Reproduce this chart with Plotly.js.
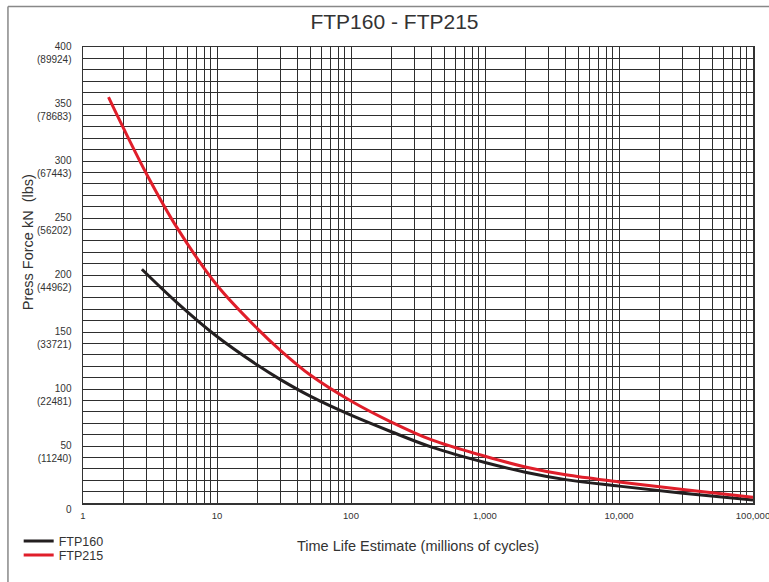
<!DOCTYPE html>
<html>
<head>
<meta charset="utf-8">
<script src="https://cdn.plot.ly/plotly-3.0.1.min.js"></script>
<style>html,body{margin:0;padding:0;background:#fff;}#chart{width:769px;height:582px;}</style>
</head>
<body>
<div id="chart"></div>
<script>
// FTP215 (red)
var ftp215X = [1.55, 2, 3, 5, 10, 20, 30, 50, 100, 200, 400, 1000, 2000, 4000, 10000, 30000, 100000];
var ftp215Y = [356, 329, 288, 242, 191, 153, 133.5, 112, 89.5, 71, 55.3, 41, 31.6, 24.7, 18.5, 11.8, 5];
// FTP160 (black)
var ftp160X = [2.75, 5, 10, 20, 30, 50, 100, 200, 400, 1000, 2000, 4000, 10000, 30000, 100000];
var ftp160Y = [205, 176, 146, 121, 108, 93.5, 77, 62.5, 49, 35.5, 27, 20.5, 14.8, 8.6, 2.6];

var yMajor = [0, 50, 100, 150, 200, 250, 300, 350, 400];
var yLbs = ['', '(11240)', '(22481)', '(33721)', '(44962)', '(56202)', '(67443)', '(78683)', '(89924)'];
var xMajor = [1, 10, 100, 1000, 10000, 100000];
var xMajorText = ['1', '10', '100', '1,000', '10,000', '100,000'];
var yTitle = 'Press Force kN  (lbs)';

var yTickVals = [], yTickText = [];
for (var v = 0; v <= 400; v += 10) {
  yTickVals.push(v);
  var idx = yMajor.indexOf(v);
  if (idx >= 0) {
    yTickText.push(yLbs[idx] ? (v + '<br>' + yLbs[idx]) : String(v));
  } else {
    yTickText.push('');
  }
}
var xTickVals = [], xTickText = [];
for (var d = 0; d < xMajor.length; d++) {
  var base = xMajor[d];
  var maxm = (d === xMajor.length - 1) ? 1 : 9;
  for (var m = 1; m <= maxm; m++) {
    xTickVals.push(base * m);
    xTickText.push(m === 1 ? xMajorText[d] : '');
  }
}

var traces = [
  {x: ftp160X, y: ftp160Y, name: 'FTP160', mode: 'lines', legend: 'legend', line: {color: '#231f20', width: 3, shape: 'spline', smoothing: 1}},
  {x: ftp215X, y: ftp215Y, name: 'FTP215', mode: 'lines', legend: 'legend2', line: {color: '#e01e2a', width: 3, shape: 'spline', smoothing: 1}}
];

var legendBase = {xanchor: 'left', yanchor: 'middle', font: {size: 12.5, color: '#333333'}, itemwidth: 30, bgcolor: 'rgba(0,0,0,0)', borderwidth: 0};

var layout = {
  width: 769, height: 582,
  margin: {l: 83, r: 16, t: 46.5, b: 79, autoexpand: false},
  paper_bgcolor: '#ffffff', plot_bgcolor: '#ffffff',
  font: {family: 'Liberation Sans, Arial, sans-serif', color: '#333333'},
  title: {text: 'FTP160 - FTP215', font: {size: 21, color: '#333333'}, x: 0.513, xanchor: 'center', y: 0.962, yanchor: 'middle'},
  showlegend: true,
  legend: Object.assign({}, legendBase, {x: -0.096, y: (503 - 541.5) / 456.5}),
  legend2: Object.assign({}, legendBase, {x: -0.096, y: (503 - 555.5) / 456.5}),
  xaxis: {
    type: 'log', range: [0, 5], tickmode: 'array', tickvals: xTickVals, ticktext: xTickText,
    showgrid: true, gridcolor: '#2e2e2e', gridwidth: 1, zeroline: false,
    showline: true, linecolor: '#333333', linewidth: 1.5, mirror: true, ticks: '',
    tickfont: {size: 9.5, color: '#333333'}, ticklabelstandoff: 3, ticklabeloverflow: 'allow',
    title: {text: 'Time Life Estimate (millions of cycles)', font: {size: 14.5, color: '#333333'}, standoff: 21}
  },
  yaxis: {
    range: [0, 400], tickmode: 'array', tickvals: yTickVals, ticktext: yTickText,
    showgrid: true, gridcolor: '#2e2e2e', gridwidth: 1, zeroline: false,
    showline: true, linecolor: '#333333', linewidth: 1.5, mirror: true, ticks: '',
    tickfont: {size: 10, color: '#333333'}, ticklabelshift: 6, ticklabelstandoff: 8
  },
  annotations: [
    {text: yTitle, xref: 'paper', yref: 'paper', x: (28 - 83) / 670, y: (503 - 242) / 456.5,
     xanchor: 'center', yanchor: 'middle', textangle: -90, showarrow: false,
     font: {size: 14.5, color: '#333333'}}
  ],
  shapes: [
    {type: 'line', xref: 'paper', yref: 'paper', x0: -0.112, x1: 686 / 670, y0: (503 - 6) / 456.5, y1: (503 - 6) / 456.5, line: {color: '#888888', width: 1.5}},
    {type: 'line', xref: 'paper', yref: 'paper', x0: -0.112, x1: -0.112, y0: (503 - 6) / 456.5, y1: -79 / 456.5, line: {color: '#888888', width: 1.5}}
  ]
};

Plotly.newPlot('chart', traces, layout, {displayModeBar: false, staticPlot: true});
</script>
</body>
</html>
